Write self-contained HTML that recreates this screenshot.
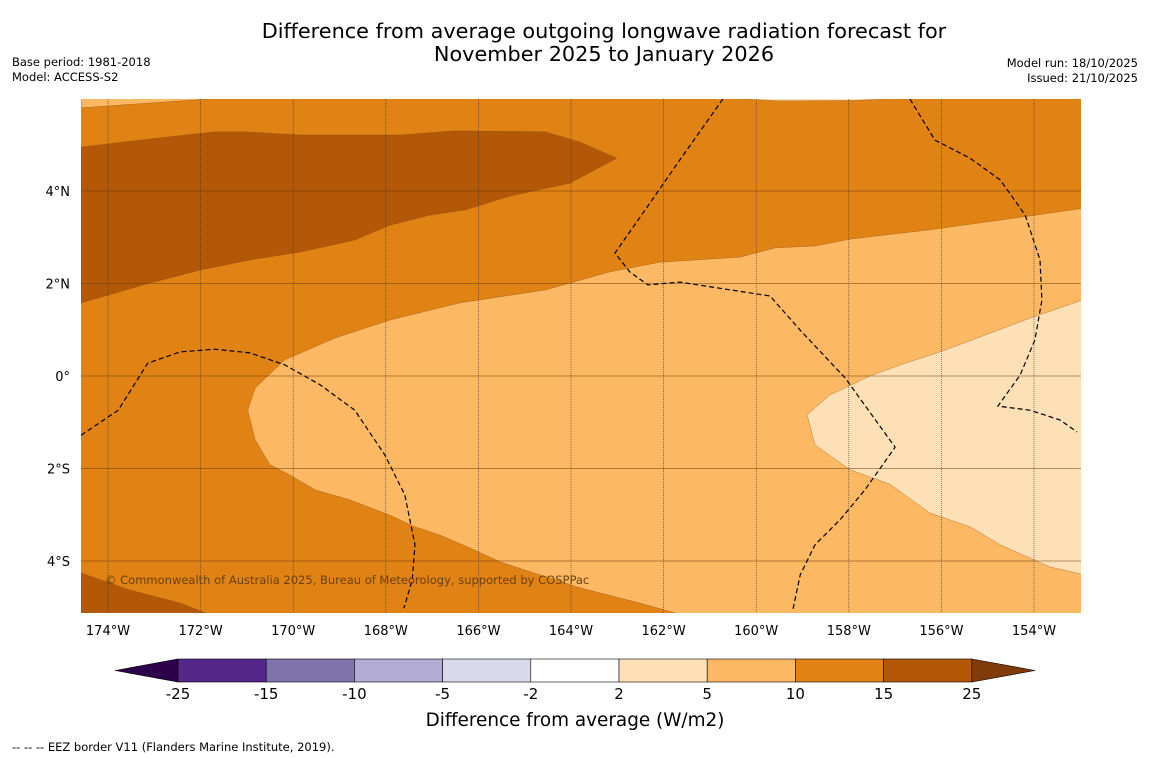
<!DOCTYPE html>
<html><head><meta charset="utf-8"><style>
body{margin:0;background:#fff;width:1150px;height:758px;overflow:hidden;font-family:"DejaVu Sans",sans-serif}
svg{display:block}
</style></head><body>
<svg id="chart" width="1150" height="758" xmlns="http://www.w3.org/2000/svg" font-family="DejaVu Sans, sans-serif">
<rect width="1150" height="758" fill="#fff"/>
<text x="604" y="38" font-size="20.8" text-anchor="middle" fill="#000">Difference from average outgoing longwave radiation forecast for</text>
<text x="604" y="61" font-size="20.8" text-anchor="middle" fill="#000">November 2025 to January 2026</text>
<text x="12" y="66" font-size="11.5">Base period: 1981-2018</text>
<text x="12" y="81" font-size="11.5">Model: ACCESS-S2</text>
<text x="1138" y="67" font-size="11.5" text-anchor="end">Model run: 18/10/2025</text>
<text x="1138" y="82" font-size="11.5" text-anchor="end">Issued: 21/10/2025</text>
<defs><clipPath id="mapclip"><rect x="81" y="99" width="1000" height="514"/></clipPath></defs>
<g id="map" clip-path="url(#mapclip)"></g>
<g id="axes"></g>
<g id="cbar"></g>
<text x="575" y="726" font-size="18.4" text-anchor="middle">Difference from average (W/m2)</text>
<text x="12" y="751" font-size="11.5">--  --  -- EEZ border V11 (Flanders Marine Institute, 2019).</text>
</svg>
<script>
const lonTicks=[-174,-172,-170,-168,-166,-164,-162,-160,-158,-156,-154];
const latTicks=[4,2,0,-2,-4];
const cbBounds=[-25,-15,-10,-5,-2,2,5,10,15,25];
const cbColors=["#542788","#8073ac","#b2abd2","#d8daeb","#ffffff","#fee0b6","#fdb863","#e08214","#b35806"];
const darkTop=[[-174.58,4.95],[-173.31,5.10],[-171.69,5.28],[-171.04,5.28],[-169.85,5.21],[-167.69,5.21],[-166.51,5.30],[-164.56,5.28],[-163.81,5.06],[-163.01,4.71],[-164.02,4.17],[-165.32,3.89],[-166.29,3.59],[-167.05,3.48],[-167.91,3.26],[-168.67,2.94],[-169.85,2.68],[-170.93,2.51],[-172.01,2.29],[-173.09,2.01],[-174.58,1.58]];
const darkBottom=[[-174.58,-4.26],[-173.52,-4.63],[-172.44,-4.91],[-171.69,-5.2],[-174.58,-5.2]];
const lightRegion=[[-170.82,-0.26],[-170.18,0.35],[-169.10,0.82],[-167.91,1.21],[-166.40,1.58],[-164.56,1.86],[-163.16,2.25],[-162.08,2.46],[-160.35,2.57],[-159.59,2.77],[-158.73,2.81],[-157.97,2.96],[-156.25,3.16],[-154.73,3.37],[-152.9,3.63],[-152.9,-5.2],[-161.47,-5.2],[-162.51,-4.91],[-163.81,-4.58],[-164.67,-4.30],[-165.53,-4.02],[-166.18,-3.72],[-166.83,-3.44],[-167.37,-3.26],[-167.91,-3.01],[-168.77,-2.68],[-169.53,-2.46],[-170.07,-2.14],[-170.50,-1.92],[-170.82,-1.38],[-170.98,-0.74]];
const lightTopLeft=[[-174.58,6.0],[-171.69,6.0],[-174.58,5.8]];
const paleRegion=[[-152.9,1.66],[-154.09,1.25],[-155.17,0.84],[-156.03,0.52],[-156.89,0.24],[-157.54,0],[-158.41,-0.41],[-158.90,-0.84],[-158.73,-1.49],[-157.97,-2.03],[-157.11,-2.34],[-156.25,-2.96],[-155.38,-3.26],[-154.73,-3.65],[-153.65,-4.13],[-152.9,-4.30]];
const paleTop=[[-160.5,6.0],[-156.9,6.0],[-157.9,5.96],[-159.5,5.95]];
const eez1=[[-174.58,-1.28],[-173.78,-0.74],[-173.14,0.28],[-172.44,0.52],[-171.69,0.58],[-170.93,0.50],[-170.18,0.24],[-169.42,-0.19],[-168.67,-0.74],[-168.02,-1.71],[-167.59,-2.57],[-167.37,-3.65],[-167.43,-4.41],[-167.61,-5.02]];
const eez2=[[-160.72,5.99],[-161.65,4.67],[-162.40,3.59],[-163.05,2.66],[-162.73,2.25],[-162.34,1.97],[-161.65,2.03],[-159.70,1.73],[-159.05,0.99],[-158.08,-0.04],[-157.00,-1.54],[-157.65,-2.46],[-158.19,-3.11],[-158.73,-3.65],[-159.05,-4.30],[-159.21,-5.06]];
const eez3=[[-156.68,5.99],[-156.14,5.10],[-155.38,4.71],[-154.73,4.24],[-154.19,3.48],[-153.87,2.51],[-153.83,1.64],[-153.98,0.78],[-154.30,0.02],[-154.78,-0.65],[-154.09,-0.74],[-153.44,-0.95],[-153.07,-1.21]];

const NS="http://www.w3.org/2000/svg";
const xS=lon=>108+(lon+174)*46.3;
const yS=lat=>376-lat*46.25;
function mk(tag,attrs,parent){const e=document.createElementNS(NS,tag);for(const k in attrs)e.setAttribute(k,attrs[k]);parent.appendChild(e);return e;}
const map=document.getElementById('map');
const pts=a=>a.map(p=>xS(p[0]).toFixed(1)+','+yS(p[1]).toFixed(1)).join(' ');
let bg=mk('rect',{x:81,y:99,width:1000,height:514,fill:"#e08214"},map);


const regions=[[darkTop,"#b35806","region-15-25-north"],[darkBottom,"#b35806","region-15-25-southwest"],[lightRegion,"#fdb863","region-5-10"],[lightTopLeft,"#fdb863","region-5-10-north"],[paleRegion,"#fee0b6","region-2-5-east"],[paleTop,"#fee0b6","region-2-5-north"]];
regions.forEach(r=>{const e=mk('polygon',{points:pts(r[0]),fill:r[1],stroke:"#7a4a10","stroke-width":0.3},map);

});
lonTicks.forEach(l=>{const e=mk('line',{x1:xS(l),x2:xS(l),y1:99,y2:613,stroke:"#333","stroke-width":0.6,"stroke-dasharray":"1,1"},map);

});
latTicks.forEach(l=>{const e=mk('line',{x1:81,x2:1081,y1:yS(l),y2:yS(l),stroke:"#6b3a08","stroke-width":0.6},map);

});
[[eez1,"eez-border-west"],[eez2,"eez-border-central"],[eez3,"eez-border-east"]].forEach(r=>{const e=mk('polyline',{points:pts(r[0]),fill:"none",stroke:"#000","stroke-width":1.2,"stroke-dasharray":"5,3"},map);

});
const cp=mk('text',{x:105,y:584,"font-size":11.5,fill:"#6b4010"},map);cp.textContent="© Commonwealth of Australia 2025, Bureau of Meteorology, supported by COSPPac";


const axes=document.getElementById('axes');
lonTicks.forEach(l=>{const t=mk('text',{x:xS(l),y:635,"font-size":13,"text-anchor":"middle"},axes);t.textContent=Math.abs(l)+"°W";

});
latTicks.forEach(l=>{const t=mk('text',{x:70,y:yS(l)+5,"font-size":13,"text-anchor":"end"},axes);t.textContent=l===0?"0°":Math.abs(l)+"°"+(l>0?"N":"S");

});
const cb=document.getElementById('cbar');
const cx0=178,cw=88.2,cy=659,ch=23;
const lt=mk('polygon',{points:`115,${cy+ch/2} ${cx0},${cy} ${cx0},${cy+ch}`,fill:"#2d004b",stroke:"#000","stroke-width":0.6},cb);


cbColors.forEach((c,i)=>{const e=mk('rect',{x:cx0+i*cw,y:cy,width:cw,height:ch,fill:c,stroke:"#000","stroke-width":0.6},cb);

});
const xe=cx0+cbColors.length*cw;
const rt=mk('polygon',{points:`${xe},${cy} 1035,${cy+ch/2} ${xe},${cy+ch}`,fill:"#7f3b08",stroke:"#000","stroke-width":0.6},cb);


cbBounds.forEach((b,i)=>{const t=mk('text',{x:cx0+i*cw,y:699,"font-size":15,"text-anchor":"middle"},cb);t.textContent=b;

});
</script>
</body></html>
